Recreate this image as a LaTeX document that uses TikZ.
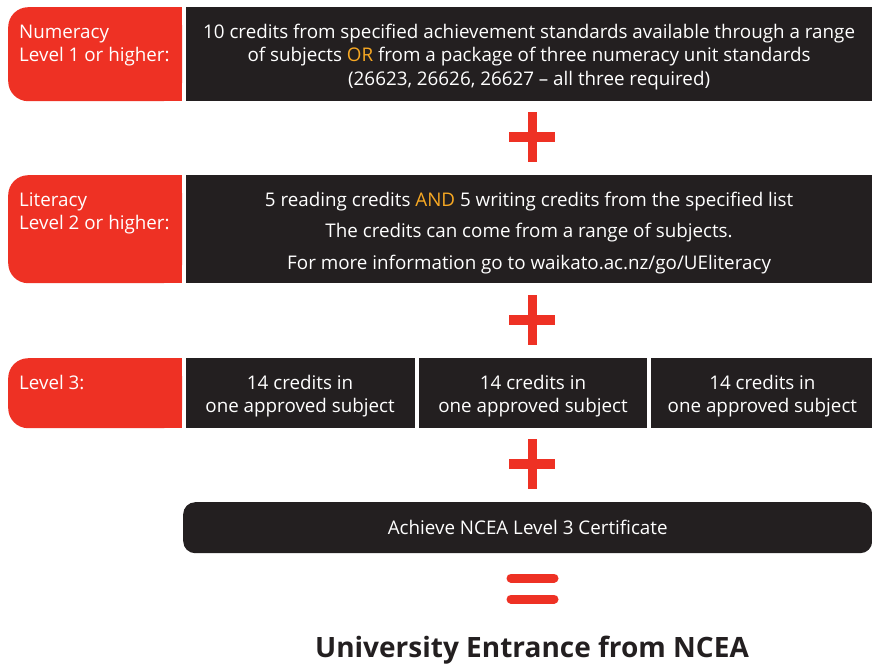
\documentclass[tikz,border=0pt]{standalone}
\usepackage{fontspec}
\setmainfont{Open Sans}
\usetikzlibrary{positioning}
\definecolor{nzred}{HTML}{EE3124}
\definecolor{ink}{HTML}{231F20}
\definecolor{amber}{HTML}{F7A823}
\newcommand{\toprule}[1][20pt]{\rule{0pt}{#1}}
\tikzset{
  labelbox/.style={rectangle, rounded corners=20pt, fill=nzred, minimum width=174pt,
    inner sep=0pt, anchor=north west},
  labeltext/.style={anchor=base west, align=left, inner sep=0pt, text=white,
    font=\fontsize{18.8}{23.5}\selectfont},
  credbox/.style={rectangle, fill=ink, text=white, inner sep=0pt, align=center,
    font=\fontsize{18.8}{23.5}\selectfont},
  plusbar/.style={nzred, line width=9.5pt},
}

\begin{document}
\begin{tikzpicture}[x=1pt, y=-1pt, node distance=3pt]
\useasboundingbox (0,0) rectangle (872,664);
% numeracy row
\node[labelbox, minimum height=94pt] (numbox) at (8,7) {};
\fill[nzred] (numbox.north) rectangle (numbox.south east);
\node[labeltext] (numtxt) at ([shift={(11,54.5)}]numbox.north west) {Numeracy\\Level 1 or higher:};
\node[credbox, minimum width=687pt, minimum height=94pt, right=of numbox] (numcred)
  {\toprule 10 credits from specified achievement standards available through a range\\
   of subjects \textcolor{amber}{OR} from a package of three numeracy unit standards\\
   (26623, 26626, 26627 -- all three required)};
% literacy row
\node[labelbox, minimum height=108pt] (litbox) at (8,175) {};
\fill[nzred] (litbox.north) rectangle (litbox.south east);
\node[labeltext] (littxt) at ([shift={(11,54.5)}]litbox.north west) {Literacy\\Level 2 or higher:};
\node[credbox, minimum width=687pt, minimum height=108pt, right=of litbox,
  font=\fontsize{18.8}{31.5}\selectfont] (litcred)
  {\toprule[22pt]5 reading credits \textcolor{amber}{AND} 5 writing credits from the specified list\\
   The credits can come from a range of subjects.\\
   For more information go to waikato.ac.nz/go/UEliteracy};
% level 3 row
\node[labelbox, minimum height=70pt] (lvlbox) at (8,358) {};
\fill[nzred] (lvlbox.north) rectangle (lvlbox.south east);
\node[labeltext] (lvltxt) at ([shift={(11,31)}]lvlbox.north west) {Level 3:};
\node[credbox, minimum width=229pt, minimum height=70pt, right=of lvlbox] (subj1)
  {\toprule 14 credits in\\one approved subject};
\node[credbox, minimum width=228pt, minimum height=70pt, right=4pt of subj1] (subj2)
  {\toprule 14 credits in\\one approved subject};
\node[credbox, minimum width=222pt, minimum height=70pt, right=4pt of subj2] (subj3)
  {\toprule 14 credits in\\one approved subject};
% certificate
\node[credbox, rounded corners=12pt, minimum width=689pt, minimum height=51pt,
  anchor=north west] (cert) at (183,502) {Achieve NCEA Level 3 Certificate};
% plus and equals signs
\foreach \y in {137,320,464} {
  \draw[plusbar] (509,\y) -- (555,\y);
  \draw[plusbar] (532.5,\y-25) -- (532.5,\y+25);
}
\draw[plusbar, line width=9pt, line cap=round] (511,578) -- (554,578);
\draw[plusbar, line width=9pt, line cap=round] (511,599) -- (554,599);
\node[anchor=base, inner sep=0pt, text=ink, font=\bfseries\fontsize{28}{34}\selectfont]
  (ue) at (532,657) {University Entrance from NCEA};
\end{tikzpicture}
\end{document}
